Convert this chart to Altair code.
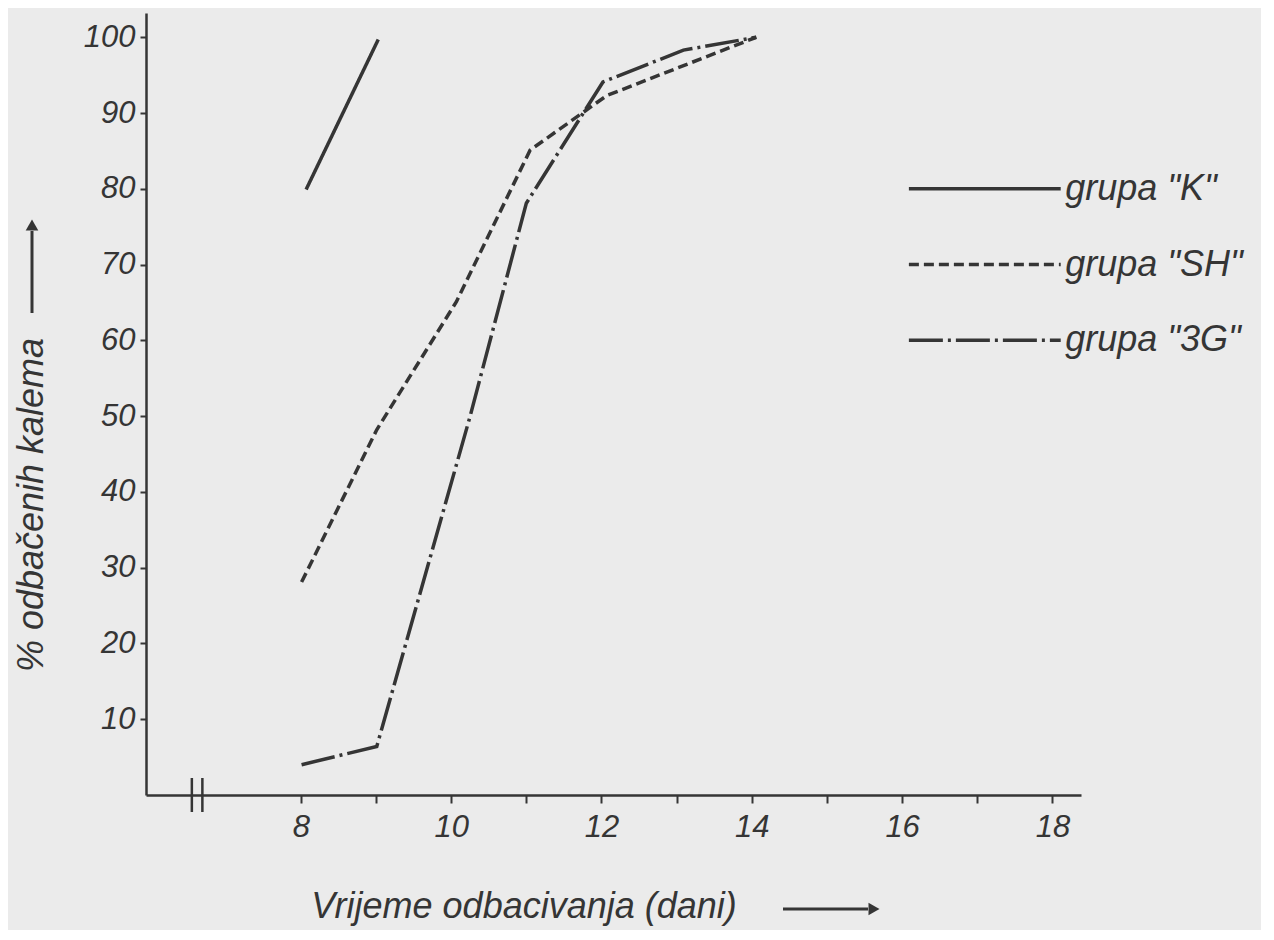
import altair as alt
import pandas as pd

# ---- data ----
series_names = ['grupa "K"', 'grupa "SH"', 'grupa "3G"']
days_K = [8.07, 9.03]
pct_K = [79.9, 99.7]
days_SH = [8.01, 9.01, 10.07, 11.05, 12.07, 14.06]
pct_SH = [28.1, 48.2, 65.1, 85.1, 92.3, 100.0]
days_3G = [8.01, 9.01, 10.25, 11.0, 12.02, 13.09, 14.06]
pct_3G = [4.0, 6.4, 49.9, 78.1, 94.1, 98.3, 100.0]
x_ticks = [8, 9, 10, 11, 12, 13, 14, 15, 16, 17, 18]
y_ticks = [10, 20, 30, 40, 50, 60, 70, 80, 90, 100]
legend_pct = [80, 70, 60]
break_days = [6.55, 6.69]

INK = "#353535"
FONT = "Liberation Sans"

rows = []
for name, xs, ys in zip(series_names, [days_K, days_SH, days_3G], [pct_K, pct_SH, pct_3G]):
    for x, y in zip(xs, ys):
        rows.append({"series": name, "day": x, "pct": y})
df = pd.DataFrame(rows)

leg = pd.DataFrame({"series": series_names, "pct": legend_pct,
                    "x0": [16.09] * 3, "x1": [18.11] * 3, "xt": [18.17] * 3})

xscale = alt.Scale(domain=[5.94, 18.38], nice=False, zero=False)
yscale = alt.Scale(domain=[0, 103.2], nice=False, zero=False)
dash = alt.StrokeDash("series:N", scale=alt.Scale(domain=series_names,
                      range=[[1, 0], [10, 5], [34, 5, 3, 5]]), legend=None)

xaxis = alt.Axis(values=x_ticks, format="d",
                 labelExpr="datum.value % 2 == 0 ? datum.label : ''",
                 title=None, grid=False, tickSize=8, tickWidth=2, domainWidth=2.5,
                 domainColor=INK, tickColor=INK, labelColor=INK, labelFont=FONT,
                 labelFontStyle="italic", labelFontSize=31, labelPadding=9)
yaxis = alt.Axis(values=y_ticks, format="d", title=None, grid=False, tickSize=6, tickWidth=2,
                 domainWidth=2.5, domainColor=INK, tickColor=INK, labelColor=INK,
                 labelFont=FONT, labelFontStyle="italic", labelFontSize=31, labelPadding=5)

lines = alt.Chart(df).mark_line(strokeWidth=3.5, color=INK).encode(
    x=alt.X("day:Q", scale=xscale, axis=xaxis),
    y=alt.Y("pct:Q", scale=yscale, axis=yaxis),
    detail="series:N",
    strokeDash=dash,
)

leg_lines = alt.Chart(leg).mark_rule(strokeWidth=3.5, color=INK).encode(
    x=alt.X("x0:Q", scale=xscale), x2="x1:Q",
    y=alt.Y("pct:Q", scale=yscale), strokeDash=dash)

leg_text = alt.Chart(leg).mark_text(align="left", baseline="middle", font=FONT,
                                    fontStyle="italic", fontSize=36, color=INK).encode(
    x=alt.X("xt:Q", scale=xscale), y=alt.Y("pct:Q", scale=yscale), text="series:N")

# axis break symbol
brk = alt.Chart(pd.DataFrame({"day": break_days})).mark_rule(strokeWidth=2.5, color=INK).encode(
    x=alt.X("day:Q", scale=xscale),
    y=alt.value(765), y2=alt.value(799))

# titles
xtitle = alt.Chart(pd.DataFrame({"t": ["Vrijeme odbacivanja (dani)"]})).mark_text(
    align="center", baseline="middle", font=FONT, fontStyle="italic", fontSize=36, color=INK
).encode(x=alt.value(378), y=alt.value(894), text="t:N")
xarrow = alt.Chart(pd.DataFrame({"a": [0]})).mark_rule(strokeWidth=3, color=INK).encode(
    x=alt.value(637), x2=alt.value(722), y=alt.value(896))
xhead = alt.Chart(pd.DataFrame({"a": [0]})).mark_point(shape="triangle-right", filled=True,
                                                       size=160, color=INK, opacity=1).encode(
    x=alt.value(728), y=alt.value(896))

ytitle = alt.Chart(pd.DataFrame({"t": ["% odbačenih kalema"]})).mark_text(
    align="center", baseline="middle", angle=270, font=FONT, fontStyle="italic",
    fontSize=36, color=INK).encode(x=alt.value(-114), y=alt.value(492), text="t:N")
yarrow = alt.Chart(pd.DataFrame({"a": [0]})).mark_rule(strokeWidth=3, color=INK).encode(
    x=alt.value(-114), y=alt.value(300), y2=alt.value(218))
yhead = alt.Chart(pd.DataFrame({"a": [0]})).mark_point(shape="triangle-up", filled=True,
                                                       size=160, color=INK, opacity=1).encode(
    x=alt.value(-114), y=alt.value(212))

chart = alt.layer(lines, leg_lines, leg_text, brk, xtitle, xarrow, xhead,
                  ytitle, yarrow, yhead).properties(
    width=935, height=782,
    autosize=alt.AutoSizeParams(type="none"),
    padding={"left": 138, "top": 5, "right": 180, "bottom": 135},
    background="#ebebeb",
).configure_view(stroke=None)

chart.save("out.html", embed_options={"renderer": "svg", "actions": False})
